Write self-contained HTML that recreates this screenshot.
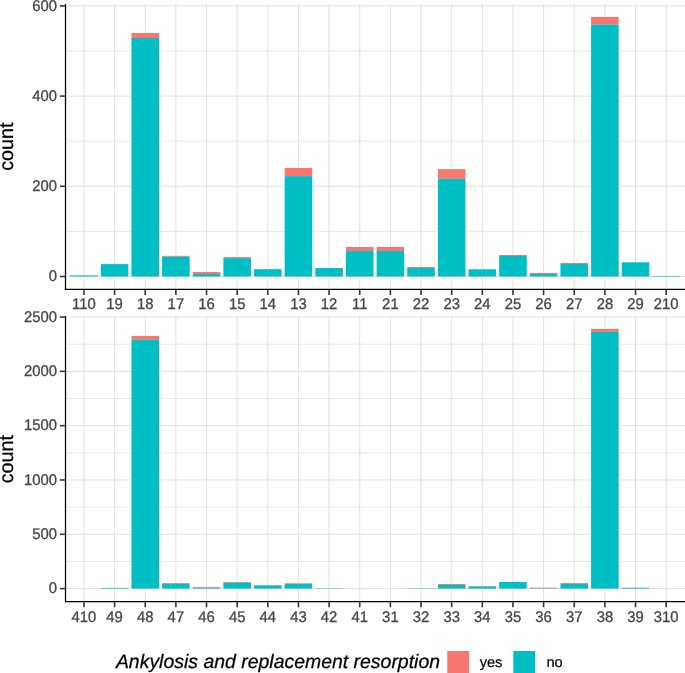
<!DOCTYPE html>
<html><head><meta charset="utf-8"><title>chart</title>
<style>
html,body{margin:0;padding:0;background:#fff;}
svg{display:block;will-change:transform;}
text{font-family:"Liberation Sans",sans-serif;text-rendering:geometricPrecision;}
.a{font-size:15.4px;fill:#454545;stroke:#454545;stroke-width:0.3px;}
.t{font-size:19.8px;fill:#000;stroke:#000;stroke-width:0.25px;}
.lt{font-size:19.45px;fill:#000;font-style:italic;stroke:#000;stroke-width:0.25px;}
.l{font-size:14.6px;fill:#000;stroke:#000;stroke-width:0.2px;}
</style></head><body>
<svg width="685" height="673" viewBox="0 0 685 673">
<rect width="685" height="673" fill="#fff"/>
<line x1="65.5" x2="685" y1="231.40" y2="231.40" stroke="#DEDEDE" stroke-width="0.7"/>
<line x1="65.5" x2="685" y1="141.20" y2="141.20" stroke="#DEDEDE" stroke-width="0.7"/>
<line x1="65.5" x2="685" y1="51.00" y2="51.00" stroke="#DEDEDE" stroke-width="0.7"/>
<line x1="65.5" x2="685" y1="276.50" y2="276.50" stroke="#DEDEDE" stroke-width="0.95"/>
<line x1="65.5" x2="685" y1="186.30" y2="186.30" stroke="#DEDEDE" stroke-width="0.95"/>
<line x1="65.5" x2="685" y1="96.10" y2="96.10" stroke="#DEDEDE" stroke-width="0.95"/>
<line x1="65.5" x2="685" y1="5.90" y2="5.90" stroke="#DEDEDE" stroke-width="0.95"/>
<line x1="83.95" x2="83.95" y1="3.9" y2="289.45" stroke="#DEDEDE" stroke-width="0.95"/>
<line x1="114.59" x2="114.59" y1="3.9" y2="289.45" stroke="#DEDEDE" stroke-width="0.95"/>
<line x1="145.24" x2="145.24" y1="3.9" y2="289.45" stroke="#DEDEDE" stroke-width="0.95"/>
<line x1="175.88" x2="175.88" y1="3.9" y2="289.45" stroke="#DEDEDE" stroke-width="0.95"/>
<line x1="206.52" x2="206.52" y1="3.9" y2="289.45" stroke="#DEDEDE" stroke-width="0.95"/>
<line x1="237.17" x2="237.17" y1="3.9" y2="289.45" stroke="#DEDEDE" stroke-width="0.95"/>
<line x1="267.81" x2="267.81" y1="3.9" y2="289.45" stroke="#DEDEDE" stroke-width="0.95"/>
<line x1="298.45" x2="298.45" y1="3.9" y2="289.45" stroke="#DEDEDE" stroke-width="0.95"/>
<line x1="329.10" x2="329.10" y1="3.9" y2="289.45" stroke="#DEDEDE" stroke-width="0.95"/>
<line x1="359.74" x2="359.74" y1="3.9" y2="289.45" stroke="#DEDEDE" stroke-width="0.95"/>
<line x1="390.38" x2="390.38" y1="3.9" y2="289.45" stroke="#DEDEDE" stroke-width="0.95"/>
<line x1="421.03" x2="421.03" y1="3.9" y2="289.45" stroke="#DEDEDE" stroke-width="0.95"/>
<line x1="451.67" x2="451.67" y1="3.9" y2="289.45" stroke="#DEDEDE" stroke-width="0.95"/>
<line x1="482.32" x2="482.32" y1="3.9" y2="289.45" stroke="#DEDEDE" stroke-width="0.95"/>
<line x1="512.96" x2="512.96" y1="3.9" y2="289.45" stroke="#DEDEDE" stroke-width="0.95"/>
<line x1="543.60" x2="543.60" y1="3.9" y2="289.45" stroke="#DEDEDE" stroke-width="0.95"/>
<line x1="574.25" x2="574.25" y1="3.9" y2="289.45" stroke="#DEDEDE" stroke-width="0.95"/>
<line x1="604.89" x2="604.89" y1="3.9" y2="289.45" stroke="#DEDEDE" stroke-width="0.95"/>
<line x1="635.53" x2="635.53" y1="3.9" y2="289.45" stroke="#DEDEDE" stroke-width="0.95"/>
<line x1="666.18" x2="666.18" y1="3.9" y2="289.45" stroke="#DEDEDE" stroke-width="0.95"/>
<rect x="70.16" y="275.37" width="27.58" height="1.13" fill="#00BFC4"/>
<rect x="100.8" y="264.10" width="27.58" height="12.40" fill="#00BFC4"/>
<rect x="131.45" y="33.01" width="27.58" height="5.01" fill="#F8766D"/>
<rect x="131.45" y="38.01" width="27.58" height="238.49" fill="#00BFC4"/>
<rect x="162.09" y="255.84" width="27.58" height="0.99" fill="#F8766D"/>
<rect x="162.09" y="256.84" width="27.58" height="19.66" fill="#00BFC4"/>
<rect x="192.73" y="272.04" width="27.58" height="1.98" fill="#F8766D"/>
<rect x="192.73" y="274.02" width="27.58" height="2.48" fill="#00BFC4"/>
<rect x="223.38" y="257.06" width="27.58" height="1.08" fill="#F8766D"/>
<rect x="223.38" y="258.14" width="27.58" height="18.36" fill="#00BFC4"/>
<rect x="254.02" y="269.19" width="27.58" height="7.31" fill="#00BFC4"/>
<rect x="284.66" y="167.99" width="27.58" height="8.12" fill="#F8766D"/>
<rect x="284.66" y="176.11" width="27.58" height="100.39" fill="#00BFC4"/>
<rect x="315.31" y="268.07" width="27.58" height="8.43" fill="#00BFC4"/>
<rect x="345.95" y="247.00" width="27.58" height="4.01" fill="#F8766D"/>
<rect x="345.95" y="251.02" width="27.58" height="25.48" fill="#00BFC4"/>
<rect x="376.6" y="247.00" width="27.58" height="4.01" fill="#F8766D"/>
<rect x="376.6" y="251.02" width="27.58" height="25.48" fill="#00BFC4"/>
<rect x="407.24" y="266.98" width="27.58" height="1.01" fill="#F8766D"/>
<rect x="407.24" y="268.00" width="27.58" height="8.50" fill="#00BFC4"/>
<rect x="437.88" y="169.21" width="27.58" height="9.61" fill="#F8766D"/>
<rect x="437.88" y="178.81" width="27.58" height="97.69" fill="#00BFC4"/>
<rect x="468.53" y="269.28" width="27.58" height="7.22" fill="#00BFC4"/>
<rect x="499.17" y="254.99" width="27.58" height="1.01" fill="#F8766D"/>
<rect x="499.17" y="256.00" width="27.58" height="20.50" fill="#00BFC4"/>
<rect x="529.81" y="272.98" width="27.58" height="1.04" fill="#F8766D"/>
<rect x="529.81" y="274.02" width="27.58" height="2.48" fill="#00BFC4"/>
<rect x="560.46" y="263.02" width="27.58" height="0.99" fill="#F8766D"/>
<rect x="560.46" y="264.01" width="27.58" height="12.49" fill="#00BFC4"/>
<rect x="591.1" y="16.99" width="27.58" height="7.58" fill="#F8766D"/>
<rect x="591.1" y="24.57" width="27.58" height="251.93" fill="#00BFC4"/>
<rect x="621.74" y="262.29" width="27.58" height="14.21" fill="#00BFC4"/>
<rect x="652.39" y="275.91" width="27.58" height="0.59" fill="#00BFC4"/>
<line x1="65.5" x2="65.5" y1="3.9" y2="290.075" stroke="#000000" stroke-width="1.25"/>
<line x1="64.875" x2="685" y1="289.45" y2="289.45" stroke="#000000" stroke-width="1.25"/>
<line x1="59.88" x2="64.88" y1="276.50" y2="276.50" stroke="#333333" stroke-width="1.6"/>
<text transform="translate(57.0,281.30) scale(0.965,1)" text-anchor="end" class="a">0</text>
<line x1="59.88" x2="64.88" y1="186.30" y2="186.30" stroke="#333333" stroke-width="1.6"/>
<text transform="translate(57.0,191.10) scale(0.965,1)" text-anchor="end" class="a">200</text>
<line x1="59.88" x2="64.88" y1="96.10" y2="96.10" stroke="#333333" stroke-width="1.6"/>
<text transform="translate(57.0,100.90) scale(0.965,1)" text-anchor="end" class="a">400</text>
<line x1="59.88" x2="64.88" y1="5.90" y2="5.90" stroke="#333333" stroke-width="1.6"/>
<text transform="translate(57.0,10.70) scale(0.965,1)" text-anchor="end" class="a">600</text>
<line x1="83.95" x2="83.95" y1="290.07" y2="295.07" stroke="#333333" stroke-width="1.6"/>
<text transform="translate(83.95,308.9) scale(0.965,1)" text-anchor="middle" class="a">110</text>
<line x1="114.59" x2="114.59" y1="290.07" y2="295.07" stroke="#333333" stroke-width="1.6"/>
<text transform="translate(114.59,308.9) scale(0.965,1)" text-anchor="middle" class="a">19</text>
<line x1="145.24" x2="145.24" y1="290.07" y2="295.07" stroke="#333333" stroke-width="1.6"/>
<text transform="translate(145.24,308.9) scale(0.965,1)" text-anchor="middle" class="a">18</text>
<line x1="175.88" x2="175.88" y1="290.07" y2="295.07" stroke="#333333" stroke-width="1.6"/>
<text transform="translate(175.88,308.9) scale(0.965,1)" text-anchor="middle" class="a">17</text>
<line x1="206.52" x2="206.52" y1="290.07" y2="295.07" stroke="#333333" stroke-width="1.6"/>
<text transform="translate(206.52,308.9) scale(0.965,1)" text-anchor="middle" class="a">16</text>
<line x1="237.17" x2="237.17" y1="290.07" y2="295.07" stroke="#333333" stroke-width="1.6"/>
<text transform="translate(237.17,308.9) scale(0.965,1)" text-anchor="middle" class="a">15</text>
<line x1="267.81" x2="267.81" y1="290.07" y2="295.07" stroke="#333333" stroke-width="1.6"/>
<text transform="translate(267.81,308.9) scale(0.965,1)" text-anchor="middle" class="a">14</text>
<line x1="298.45" x2="298.45" y1="290.07" y2="295.07" stroke="#333333" stroke-width="1.6"/>
<text transform="translate(298.45,308.9) scale(0.965,1)" text-anchor="middle" class="a">13</text>
<line x1="329.10" x2="329.10" y1="290.07" y2="295.07" stroke="#333333" stroke-width="1.6"/>
<text transform="translate(329.10,308.9) scale(0.965,1)" text-anchor="middle" class="a">12</text>
<line x1="359.74" x2="359.74" y1="290.07" y2="295.07" stroke="#333333" stroke-width="1.6"/>
<text transform="translate(359.74,308.9) scale(0.965,1)" text-anchor="middle" class="a">11</text>
<line x1="390.38" x2="390.38" y1="290.07" y2="295.07" stroke="#333333" stroke-width="1.6"/>
<text transform="translate(390.38,308.9) scale(0.965,1)" text-anchor="middle" class="a">21</text>
<line x1="421.03" x2="421.03" y1="290.07" y2="295.07" stroke="#333333" stroke-width="1.6"/>
<text transform="translate(421.03,308.9) scale(0.965,1)" text-anchor="middle" class="a">22</text>
<line x1="451.67" x2="451.67" y1="290.07" y2="295.07" stroke="#333333" stroke-width="1.6"/>
<text transform="translate(451.67,308.9) scale(0.965,1)" text-anchor="middle" class="a">23</text>
<line x1="482.32" x2="482.32" y1="290.07" y2="295.07" stroke="#333333" stroke-width="1.6"/>
<text transform="translate(482.32,308.9) scale(0.965,1)" text-anchor="middle" class="a">24</text>
<line x1="512.96" x2="512.96" y1="290.07" y2="295.07" stroke="#333333" stroke-width="1.6"/>
<text transform="translate(512.96,308.9) scale(0.965,1)" text-anchor="middle" class="a">25</text>
<line x1="543.60" x2="543.60" y1="290.07" y2="295.07" stroke="#333333" stroke-width="1.6"/>
<text transform="translate(543.60,308.9) scale(0.965,1)" text-anchor="middle" class="a">26</text>
<line x1="574.25" x2="574.25" y1="290.07" y2="295.07" stroke="#333333" stroke-width="1.6"/>
<text transform="translate(574.25,308.9) scale(0.965,1)" text-anchor="middle" class="a">27</text>
<line x1="604.89" x2="604.89" y1="290.07" y2="295.07" stroke="#333333" stroke-width="1.6"/>
<text transform="translate(604.89,308.9) scale(0.965,1)" text-anchor="middle" class="a">28</text>
<line x1="635.53" x2="635.53" y1="290.07" y2="295.07" stroke="#333333" stroke-width="1.6"/>
<text transform="translate(635.53,308.9) scale(0.965,1)" text-anchor="middle" class="a">29</text>
<line x1="666.18" x2="666.18" y1="290.07" y2="295.07" stroke="#333333" stroke-width="1.6"/>
<text transform="translate(666.18,308.9) scale(0.965,1)" text-anchor="middle" class="a">210</text>
<text transform="translate(13.25,146.6) rotate(-90)" text-anchor="middle" class="t">count</text>
<line x1="65.5" x2="685" y1="561.45" y2="561.45" stroke="#DEDEDE" stroke-width="0.7"/>
<line x1="65.5" x2="685" y1="507.14" y2="507.14" stroke="#DEDEDE" stroke-width="0.7"/>
<line x1="65.5" x2="685" y1="452.83" y2="452.83" stroke="#DEDEDE" stroke-width="0.7"/>
<line x1="65.5" x2="685" y1="398.52" y2="398.52" stroke="#DEDEDE" stroke-width="0.7"/>
<line x1="65.5" x2="685" y1="344.21" y2="344.21" stroke="#DEDEDE" stroke-width="0.7"/>
<line x1="65.5" x2="685" y1="588.60" y2="588.60" stroke="#DEDEDE" stroke-width="0.95"/>
<line x1="65.5" x2="685" y1="534.29" y2="534.29" stroke="#DEDEDE" stroke-width="0.95"/>
<line x1="65.5" x2="685" y1="479.98" y2="479.98" stroke="#DEDEDE" stroke-width="0.95"/>
<line x1="65.5" x2="685" y1="425.67" y2="425.67" stroke="#DEDEDE" stroke-width="0.95"/>
<line x1="65.5" x2="685" y1="371.36" y2="371.36" stroke="#DEDEDE" stroke-width="0.95"/>
<line x1="65.5" x2="685" y1="317.05" y2="317.05" stroke="#DEDEDE" stroke-width="0.95"/>
<line x1="83.95" x2="83.95" y1="315.9" y2="601.65" stroke="#DEDEDE" stroke-width="0.95"/>
<line x1="114.59" x2="114.59" y1="315.9" y2="601.65" stroke="#DEDEDE" stroke-width="0.95"/>
<line x1="145.24" x2="145.24" y1="315.9" y2="601.65" stroke="#DEDEDE" stroke-width="0.95"/>
<line x1="175.88" x2="175.88" y1="315.9" y2="601.65" stroke="#DEDEDE" stroke-width="0.95"/>
<line x1="206.52" x2="206.52" y1="315.9" y2="601.65" stroke="#DEDEDE" stroke-width="0.95"/>
<line x1="237.17" x2="237.17" y1="315.9" y2="601.65" stroke="#DEDEDE" stroke-width="0.95"/>
<line x1="267.81" x2="267.81" y1="315.9" y2="601.65" stroke="#DEDEDE" stroke-width="0.95"/>
<line x1="298.45" x2="298.45" y1="315.9" y2="601.65" stroke="#DEDEDE" stroke-width="0.95"/>
<line x1="329.10" x2="329.10" y1="315.9" y2="601.65" stroke="#DEDEDE" stroke-width="0.95"/>
<line x1="359.74" x2="359.74" y1="315.9" y2="601.65" stroke="#DEDEDE" stroke-width="0.95"/>
<line x1="390.38" x2="390.38" y1="315.9" y2="601.65" stroke="#DEDEDE" stroke-width="0.95"/>
<line x1="421.03" x2="421.03" y1="315.9" y2="601.65" stroke="#DEDEDE" stroke-width="0.95"/>
<line x1="451.67" x2="451.67" y1="315.9" y2="601.65" stroke="#DEDEDE" stroke-width="0.95"/>
<line x1="482.32" x2="482.32" y1="315.9" y2="601.65" stroke="#DEDEDE" stroke-width="0.95"/>
<line x1="512.96" x2="512.96" y1="315.9" y2="601.65" stroke="#DEDEDE" stroke-width="0.95"/>
<line x1="543.60" x2="543.60" y1="315.9" y2="601.65" stroke="#DEDEDE" stroke-width="0.95"/>
<line x1="574.25" x2="574.25" y1="315.9" y2="601.65" stroke="#DEDEDE" stroke-width="0.95"/>
<line x1="604.89" x2="604.89" y1="315.9" y2="601.65" stroke="#DEDEDE" stroke-width="0.95"/>
<line x1="635.53" x2="635.53" y1="315.9" y2="601.65" stroke="#DEDEDE" stroke-width="0.95"/>
<line x1="666.18" x2="666.18" y1="315.9" y2="601.65" stroke="#DEDEDE" stroke-width="0.95"/>
<rect x="100.8" y="587.89" width="27.58" height="0.71" fill="#00BFC4"/>
<rect x="131.45" y="335.95" width="27.58" height="3.80" fill="#F8766D"/>
<rect x="131.45" y="339.75" width="27.58" height="248.85" fill="#00BFC4"/>
<rect x="162.09" y="583.00" width="27.58" height="0.72" fill="#F8766D"/>
<rect x="162.09" y="583.71" width="27.58" height="4.89" fill="#00BFC4"/>
<rect x="192.73" y="587.19" width="27.58" height="0.81" fill="#F8766D"/>
<rect x="192.73" y="588.00" width="27.58" height="0.60" fill="#00BFC4"/>
<rect x="223.38" y="582.00" width="27.58" height="0.80" fill="#F8766D"/>
<rect x="223.38" y="582.80" width="27.58" height="5.80" fill="#00BFC4"/>
<rect x="254.02" y="585.02" width="27.58" height="0.49" fill="#F8766D"/>
<rect x="254.02" y="585.50" width="27.58" height="3.10" fill="#00BFC4"/>
<rect x="284.66" y="583.30" width="27.58" height="0.71" fill="#F8766D"/>
<rect x="284.66" y="584.01" width="27.58" height="4.59" fill="#00BFC4"/>
<rect x="315.31" y="588.27" width="27.58" height="0.33" fill="#00BFC4"/>
<rect x="407.24" y="588.27" width="27.58" height="0.33" fill="#00BFC4"/>
<rect x="437.88" y="583.99" width="27.58" height="1.01" fill="#F8766D"/>
<rect x="437.88" y="585.00" width="27.58" height="3.60" fill="#00BFC4"/>
<rect x="468.53" y="585.99" width="27.58" height="0.51" fill="#F8766D"/>
<rect x="468.53" y="586.50" width="27.58" height="2.10" fill="#00BFC4"/>
<rect x="499.17" y="581.92" width="27.58" height="6.68" fill="#00BFC4"/>
<rect x="529.81" y="587.60" width="27.58" height="0.70" fill="#F8766D"/>
<rect x="529.81" y="588.30" width="27.58" height="0.30" fill="#00BFC4"/>
<rect x="560.46" y="583.10" width="27.58" height="0.90" fill="#F8766D"/>
<rect x="560.46" y="584.01" width="27.58" height="4.59" fill="#00BFC4"/>
<rect x="591.1" y="328.89" width="27.58" height="3.04" fill="#F8766D"/>
<rect x="591.1" y="331.93" width="27.58" height="256.67" fill="#00BFC4"/>
<rect x="621.74" y="587.73" width="27.58" height="0.87" fill="#00BFC4"/>
<line x1="65.5" x2="65.5" y1="315.9" y2="602.275" stroke="#000000" stroke-width="1.25"/>
<line x1="64.875" x2="685" y1="601.65" y2="601.65" stroke="#000000" stroke-width="1.25"/>
<line x1="59.88" x2="64.88" y1="588.60" y2="588.60" stroke="#333333" stroke-width="1.6"/>
<text transform="translate(57.0,593.40) scale(0.965,1)" text-anchor="end" class="a">0</text>
<line x1="59.88" x2="64.88" y1="534.29" y2="534.29" stroke="#333333" stroke-width="1.6"/>
<text transform="translate(57.0,539.09) scale(0.965,1)" text-anchor="end" class="a">500</text>
<line x1="59.88" x2="64.88" y1="479.98" y2="479.98" stroke="#333333" stroke-width="1.6"/>
<text transform="translate(57.0,484.78) scale(0.965,1)" text-anchor="end" class="a">1000</text>
<line x1="59.88" x2="64.88" y1="425.67" y2="425.67" stroke="#333333" stroke-width="1.6"/>
<text transform="translate(57.0,430.47) scale(0.965,1)" text-anchor="end" class="a">1500</text>
<line x1="59.88" x2="64.88" y1="371.36" y2="371.36" stroke="#333333" stroke-width="1.6"/>
<text transform="translate(57.0,376.16) scale(0.965,1)" text-anchor="end" class="a">2000</text>
<line x1="59.88" x2="64.88" y1="317.05" y2="317.05" stroke="#333333" stroke-width="1.6"/>
<text transform="translate(57.0,321.85) scale(0.965,1)" text-anchor="end" class="a">2500</text>
<line x1="83.95" x2="83.95" y1="602.27" y2="607.27" stroke="#333333" stroke-width="1.6"/>
<text transform="translate(83.95,621.6) scale(0.965,1)" text-anchor="middle" class="a">410</text>
<line x1="114.59" x2="114.59" y1="602.27" y2="607.27" stroke="#333333" stroke-width="1.6"/>
<text transform="translate(114.59,621.6) scale(0.965,1)" text-anchor="middle" class="a">49</text>
<line x1="145.24" x2="145.24" y1="602.27" y2="607.27" stroke="#333333" stroke-width="1.6"/>
<text transform="translate(145.24,621.6) scale(0.965,1)" text-anchor="middle" class="a">48</text>
<line x1="175.88" x2="175.88" y1="602.27" y2="607.27" stroke="#333333" stroke-width="1.6"/>
<text transform="translate(175.88,621.6) scale(0.965,1)" text-anchor="middle" class="a">47</text>
<line x1="206.52" x2="206.52" y1="602.27" y2="607.27" stroke="#333333" stroke-width="1.6"/>
<text transform="translate(206.52,621.6) scale(0.965,1)" text-anchor="middle" class="a">46</text>
<line x1="237.17" x2="237.17" y1="602.27" y2="607.27" stroke="#333333" stroke-width="1.6"/>
<text transform="translate(237.17,621.6) scale(0.965,1)" text-anchor="middle" class="a">45</text>
<line x1="267.81" x2="267.81" y1="602.27" y2="607.27" stroke="#333333" stroke-width="1.6"/>
<text transform="translate(267.81,621.6) scale(0.965,1)" text-anchor="middle" class="a">44</text>
<line x1="298.45" x2="298.45" y1="602.27" y2="607.27" stroke="#333333" stroke-width="1.6"/>
<text transform="translate(298.45,621.6) scale(0.965,1)" text-anchor="middle" class="a">43</text>
<line x1="329.10" x2="329.10" y1="602.27" y2="607.27" stroke="#333333" stroke-width="1.6"/>
<text transform="translate(329.10,621.6) scale(0.965,1)" text-anchor="middle" class="a">42</text>
<line x1="359.74" x2="359.74" y1="602.27" y2="607.27" stroke="#333333" stroke-width="1.6"/>
<text transform="translate(359.74,621.6) scale(0.965,1)" text-anchor="middle" class="a">41</text>
<line x1="390.38" x2="390.38" y1="602.27" y2="607.27" stroke="#333333" stroke-width="1.6"/>
<text transform="translate(390.38,621.6) scale(0.965,1)" text-anchor="middle" class="a">31</text>
<line x1="421.03" x2="421.03" y1="602.27" y2="607.27" stroke="#333333" stroke-width="1.6"/>
<text transform="translate(421.03,621.6) scale(0.965,1)" text-anchor="middle" class="a">32</text>
<line x1="451.67" x2="451.67" y1="602.27" y2="607.27" stroke="#333333" stroke-width="1.6"/>
<text transform="translate(451.67,621.6) scale(0.965,1)" text-anchor="middle" class="a">33</text>
<line x1="482.32" x2="482.32" y1="602.27" y2="607.27" stroke="#333333" stroke-width="1.6"/>
<text transform="translate(482.32,621.6) scale(0.965,1)" text-anchor="middle" class="a">34</text>
<line x1="512.96" x2="512.96" y1="602.27" y2="607.27" stroke="#333333" stroke-width="1.6"/>
<text transform="translate(512.96,621.6) scale(0.965,1)" text-anchor="middle" class="a">35</text>
<line x1="543.60" x2="543.60" y1="602.27" y2="607.27" stroke="#333333" stroke-width="1.6"/>
<text transform="translate(543.60,621.6) scale(0.965,1)" text-anchor="middle" class="a">36</text>
<line x1="574.25" x2="574.25" y1="602.27" y2="607.27" stroke="#333333" stroke-width="1.6"/>
<text transform="translate(574.25,621.6) scale(0.965,1)" text-anchor="middle" class="a">37</text>
<line x1="604.89" x2="604.89" y1="602.27" y2="607.27" stroke="#333333" stroke-width="1.6"/>
<text transform="translate(604.89,621.6) scale(0.965,1)" text-anchor="middle" class="a">38</text>
<line x1="635.53" x2="635.53" y1="602.27" y2="607.27" stroke="#333333" stroke-width="1.6"/>
<text transform="translate(635.53,621.6) scale(0.965,1)" text-anchor="middle" class="a">39</text>
<line x1="666.18" x2="666.18" y1="602.27" y2="607.27" stroke="#333333" stroke-width="1.6"/>
<text transform="translate(666.18,621.6) scale(0.965,1)" text-anchor="middle" class="a">310</text>
<text transform="translate(13.25,459.1) rotate(-90)" text-anchor="middle" class="t">count</text>
<text x="115.9" y="668.4" class="lt">Ankylosis and replacement resorption</text>
<rect x="447.3" y="651" width="21.9" height="22" fill="#F8766D"/>
<text x="479.7" y="667.1" class="l">yes</text>
<rect x="513.3" y="651" width="21.9" height="22" fill="#00BFC4"/>
<text x="546.4" y="667.1" class="l">no</text>
</svg>
</body></html>
